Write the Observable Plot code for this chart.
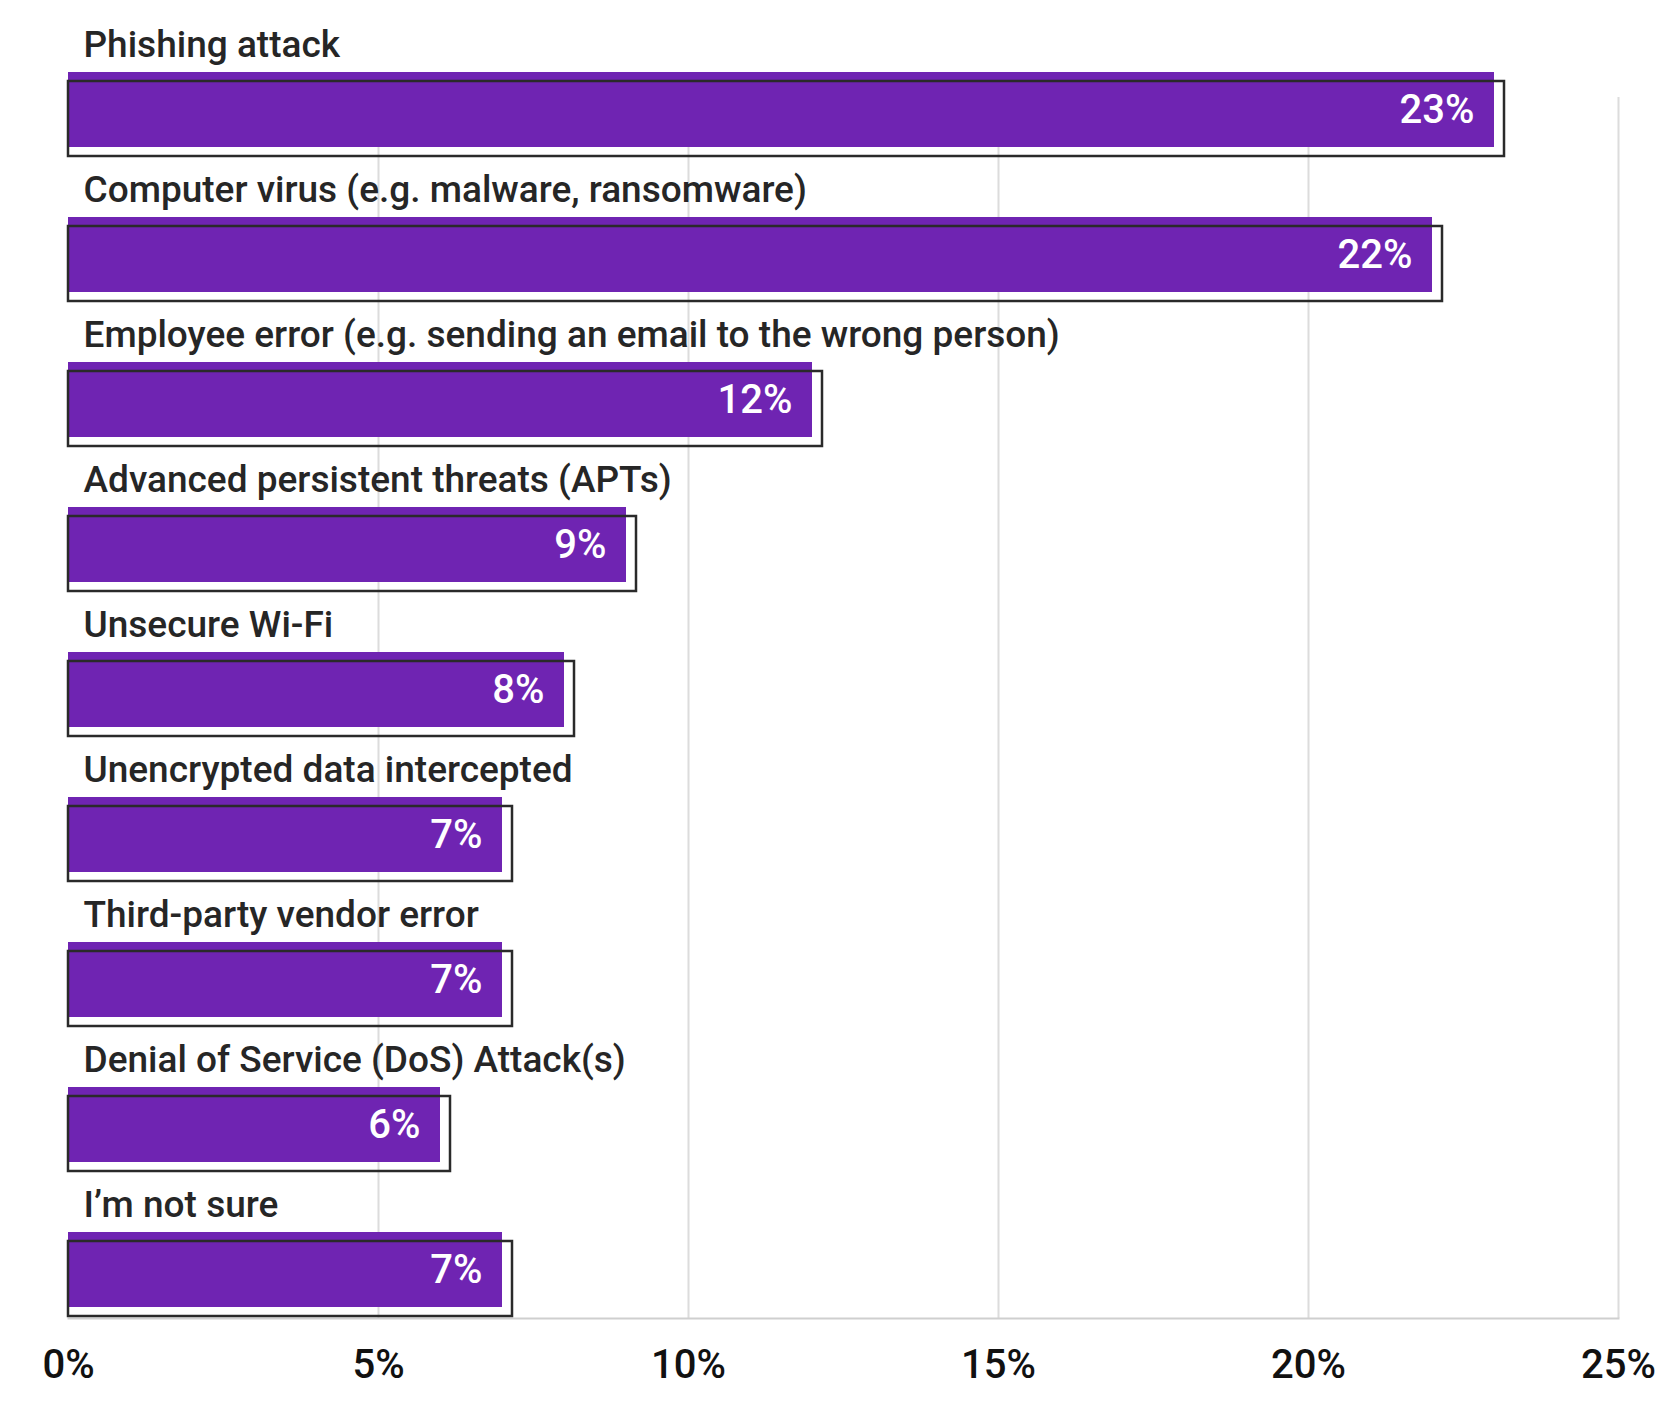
<!DOCTYPE html>
<html><head><meta charset="utf-8">
<script src="https://cdn.jsdelivr.net/npm/d3@7"></script>
<script src="https://cdn.jsdelivr.net/npm/@observablehq/plot@0.6"></script>
<style>body{margin:0;background:#fff}</style>
</head><body><div id="chart"></div>
<script>
const categories = [
  "Phishing attack",
  "Computer virus (e.g. malware, ransomware)",
  "Employee error (e.g. sending an email to the wrong person)",
  "Advanced persistent threats (APTs)",
  "Unsecure Wi-Fi",
  "Unencrypted data intercepted",
  "Third-party vendor error",
  "Denial of Service (DoS) Attack(s)",
  "I’m not sure"
];
const values = [23, 22, 12, 9, 8, 7, 7, 6, 7];
const xTicks = [0, 5, 10, 15, 20, 25];
const data = categories.map((c, i) => ({category: c, value: values[i]}));

const purple = "#6f24b2";
const plot = Plot.plot({
  width: 1677, height: 1408,
  marginLeft: 68, marginRight: 59, marginTop: 11, marginBottom: 90,
  style: {fontFamily: "Roboto, sans-serif", background: "#fff"},
  x: {domain: [0, 25], ticks: xTicks, tickFormat: d => d + "%", label: null},
  y: {domain: categories, padding: 0, axis: null},
  marks: [
    Plot.ruleX(xTicks.slice(1), {stroke: "#dcdcdc", strokeWidth: 2, insetTop: 86}),
    Plot.frame({anchor: "bottom", stroke: "#cfcfcf", strokeWidth: 2}),
    Plot.barX(data, {x: "value", y: "category", fill: purple, insetTop: 60, insetBottom: 10}),
    Plot.barX(data, {x: "value", y: "category", fill: "none", stroke: "#2a2a2a", strokeWidth: 2.5, insetTop: 69, insetBottom: 1, insetRight: -10}),
    Plot.text(data, {x: "value", y: "category", text: d => d.value + "%", dx: -20, dy: 25, textAnchor: "end", fill: "#fff", fontSize: 40, fontWeight: 500}),
    Plot.text(data, {x: 0, y: "category", text: "category", dx: 15, dy: -40, textAnchor: "start", fill: "#262626", fontSize: 37, fontWeight: 500}),
    Plot.axisX({ticks: xTicks, tickFormat: d => d + "%", tickSize: 0, tickPadding: 31, fontSize: 40, fontWeight: 500, fill: "#111", label: null})
  ]
});
document.getElementById("chart").appendChild(plot);
</script>
</body></html>
